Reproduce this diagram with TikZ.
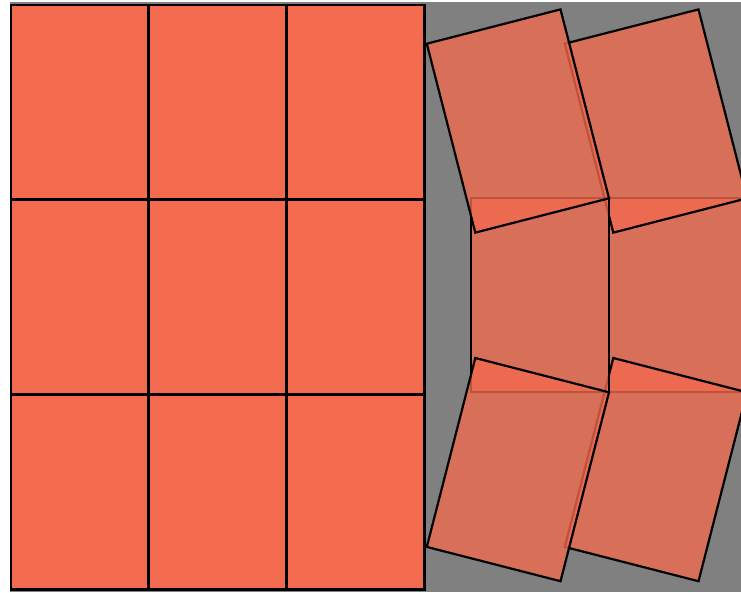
\documentclass[tikz,border=0pt]{standalone}
\definecolor{tilec}{RGB}{242,107,78}
\definecolor{bgc}{RGB}{128,128,128}
\begin{document}
\begin{tikzpicture}[x=1pt,y=-1pt,
  tile/.style={fill=tilec, draw=black, line width=2.8pt},
  ghost/.style={fill=tilec, fill opacity=0.78, draw=black, draw opacity=1, line width=2.2pt, line join=miter}]
\fill[white] (0,0) rectangle (741,592);
\useasboundingbox (0,0) rectangle (741,592);
\clip (0,0) rectangle (741,592);
\fill[bgc] (10,2) rectangle (741,592);
% left grid
\foreach \i in {0,1,2}{
  \foreach \j in {0,1,2}{
    \draw[tile] ({11+137.7*\i},{5+194.7*\j}) rectangle ++(137.7,194.7);
  }
}
% right column 2
\draw[ghost] (609,198.3) rectangle (747,392.3);
\draw[ghost] (564.8,43.7) -- (698.5,9.4) -- (747,198.3) -- (613.3,232.6) -- cycle;
\draw[ghost] (613.3,358) -- (747,392.3) -- (698.5,581.2) -- (564.8,546.9) -- cycle;
% right column 1
\draw[ghost] (471,198.3) rectangle (609,392.3);
\draw[ghost] (426.8,43.7) -- (560.5,9.4) -- (609,198.3) -- (475.3,232.6) -- cycle;
\draw[ghost] (475.3,358) -- (609,392.3) -- (560.5,581.2) -- (426.8,546.9) -- cycle;
\end{tikzpicture}
\end{document}
